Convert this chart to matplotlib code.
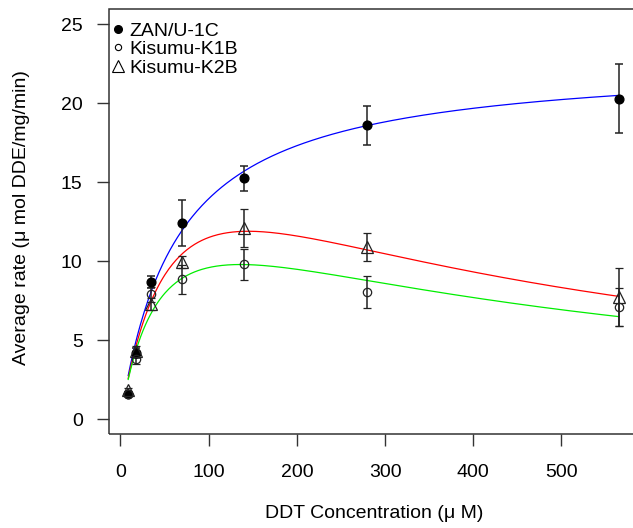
import numpy as np
import matplotlib
matplotlib.use("Agg")
import matplotlib.pyplot as plt
from matplotlib.patches import Rectangle

plt.rcParams['font.family'] = ['Liberation Sans', 'DejaVu Sans']

# DDT concentration (uM)
conc = [8.75, 17.5, 35, 70, 140, 280, 565]

# measured rates and error bars
zan_rate = [1.6, 4.2, 8.7, 12.4, 15.25, 18.6, 20.3]
zan_err = [0.15, 0.3, 0.4, 1.45, 0.8, 1.25, 2.2]
k1b_rate = [1.6, 3.8, 7.9, 8.85, 9.8, 8.05, 7.1]
k1b_err = [0.1, 0.3, 0.5, 0.9, 1.0, 1.0, 1.2]
k2b_rate = [1.85, 4.35, 7.3, 9.95, 12.1, 10.9, 7.75]
k2b_err = [0.1, 0.3, 0.4, 0.4, 1.2, 0.9, 1.85]

# fitted kinetic parameters (Vmax, Km, Ki); Ki=None -> Michaelis-Menten
zan_fit = (22.8, 63.3, None)
k1b_fit = (17.0, 50.0, 370.0)
k2b_fit = (23.4, 70.0, 300.0)


def model(s, vmax, km, ki):
    if ki is None:
        return vmax * s / (km + s)
    return vmax * s / (km + s + s ** 2 / ki)


fig = plt.figure(figsize=(6.33, 5.28), dpi=100)
ax = fig.add_axes([108.5 / 633, 94 / 528, 530.5 / 633, 425 / 528])

s = np.linspace(conc[0], conc[-1], 400)
ax.plot(s, model(s, *zan_fit), color='#0000FF', lw=0.9, zorder=2)
ax.plot(s, model(s, *k2b_fit), color='#FF0000', lw=0.9, zorder=2)
ax.plot(s, model(s, *k1b_fit), color='#00EE00', lw=0.9, zorder=2)

ekw = dict(ecolor='#222222', elinewidth=1.1, capsize=3.2, capthick=1.1, ls='none', zorder=3)
ax.errorbar(conc, zan_rate, yerr=zan_err, fmt='o', ms=6.3, mfc='black', mec='black', **ekw)
ax.errorbar(conc, k1b_rate, yerr=k1b_err, fmt='o', ms=6, mfc='none', mec='#222222', mew=0.9, **ekw)
ax.errorbar(conc, k2b_rate, yerr=k2b_err, fmt='^', ms=8, mfc='none', mec='#222222', mew=0.9, **ekw)

ax.set_xlim(-13.6, 588)
ax.set_ylim(-0.93, 25.97)
ax.set_xticks([0, 100, 200, 300, 400, 500])
ax.set_yticks([0, 5, 10, 15, 20, 25])

for sp in ax.spines.values():
    sp.set_visible(False)
ax.add_patch(Rectangle((0, 0), 1, 1, transform=ax.transAxes, fill=False,
                       ec='#333333', lw=1.1, clip_on=False, zorder=5))
ax.tick_params(axis='both', length=8.6, width=1.0, color='#333333', labelsize=14)
ax.tick_params(axis='x', pad=13)
ax.tick_params(axis='y', pad=10)

ax.set_xlabel('DDT Concentration (μ M)', fontsize=14)
ax.xaxis.set_label_coords(373.7 / 633, 1 - 505 / 528, transform=fig.transFigure)
ax.set_ylabel('Average rate (μ mol DDE/mg/min)', fontsize=14)
ax.yaxis.label.set_va('center')
ax.yaxis.set_label_coords(22 / 633, 1 - 218 / 528, transform=fig.transFigure)

h1 = ax.plot([], [], 'o', ms=5.5, color='black')[0]
h2 = ax.plot([], [], 'o', ms=4.5, mfc='none', mec='black', mew=0.8)[0]
h3 = ax.plot([], [], '^', ms=9, mfc='none', mec='black', mew=0.8)[0]
ax.legend([h1, h2, h3], ['ZAN/U-1C', 'Kisumu-K1B', 'Kisumu-K2B'],
          loc='upper left', bbox_to_anchor=(0.0, 1.0 - 9 / 425), frameon=False, fontsize=14,
          handlelength=0.6, handletextpad=0.25, labelspacing=0.05,
          borderaxespad=0.1, borderpad=0.1)

fig.savefig('out.png', dpi=100)
